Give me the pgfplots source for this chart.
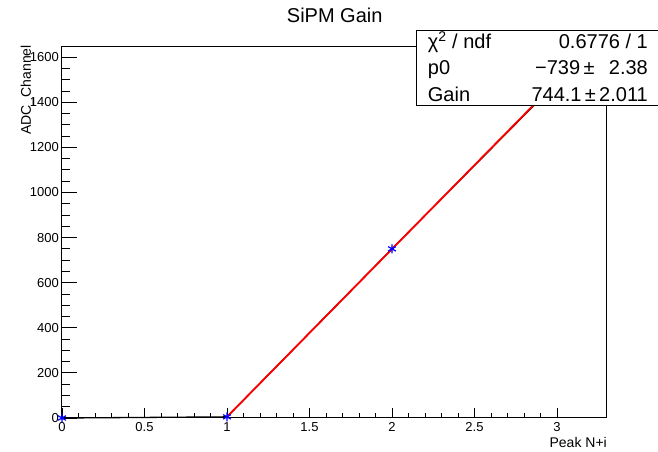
\documentclass[border=0pt]{standalone}
\usepackage{fontspec}
\setmainfont{Liberation Sans}
\usepackage{pgfplots}
\pgfplotsset{compat=1.18}
\begin{document}
\begin{tikzpicture}[x=1pt,y=1pt]
\path[use as bounding box] (-62,-34) rectangle (596,418);
\begin{axis}[
  at={(0,0)}, anchor=south west,
  scale only axis, width=544pt, height=371pt,
  xmin=0, xmax=3.297, ymin=0, ymax=1645,
  xtick={0,0.5,1,1.5,2,2.5,3},
  ytick={0,200,400,600,800,1000,1200,1400,1600},
  minor x tick num=4, minor y tick num=3,
  tick align=inside, xtick pos=bottom, ytick pos=left,
  axis line style={line width=1pt},
  every tick/.style={black, line width=0.9pt},
  major x tick style={/pgfplots/major tick length=10pt},
  minor x tick style={/pgfplots/minor tick length=5pt},
  major y tick style={/pgfplots/major tick length=15pt},
  minor y tick style={/pgfplots/minor tick length=8pt},
  /pgf/number format/assume math mode=true,
  /pgf/number format/1000 sep={},
  xticklabel style={font=\fontsize{13}{15}\selectfont, inner sep=0pt, yshift=-4.5pt},
  yticklabel style={font=\fontsize{13}{15}\selectfont, inner sep=0pt, xshift=-3pt},
  clip=false,
]
\addplot[black, line width=1.3pt] coordinates {(0,0) (1,5) (2,750) (3,1489)};
\addplot[red, line width=1.8pt] coordinates {(1,5.1) (3,1493.3)};
\addplot[only marks, blue, mark=asterisk, mark size=4.5pt, line width=1.2pt] coordinates {(0,0) (1,5) (2,750) (3,1489)};
\end{axis}
\node[anchor=base, inner sep=0pt, font=\fontsize{20}{24}\selectfont] at (272.7,395.3) {SiPM Gain};
\node[rotate=90, anchor=base east, inner sep=0pt, font=\fontsize{14}{16}\selectfont] at (-31,373) {ADC\_Channel};
\node[anchor=base east, inner sep=0pt, font=\fontsize{14}{16}\selectfont] at (545,-29) {Peak N+i};
\draw[line width=1pt, fill=white] (354.7,312.3) rectangle (620,387);
\begin{scope}[every node/.style={inner sep=0pt, font=\fontsize{20}{24}\selectfont}]
\node[anchor=base west] at (365.7,369) {χ\textsuperscript{2} / ndf};
\node[anchor=base east] at (586,369) {0.6776 / 1};
\node[anchor=base west] at (365.7,343) {p0};
\node[anchor=base east] at (532.7,343) {−739\,±};
\node[anchor=base east] at (586,343) {2.38};
\node[anchor=base west] at (365.7,316.3) {Gain};
\node[anchor=base east] at (586,316.3) {744.1\,±\,2.011};
\end{scope}
\end{tikzpicture}
\end{document}
